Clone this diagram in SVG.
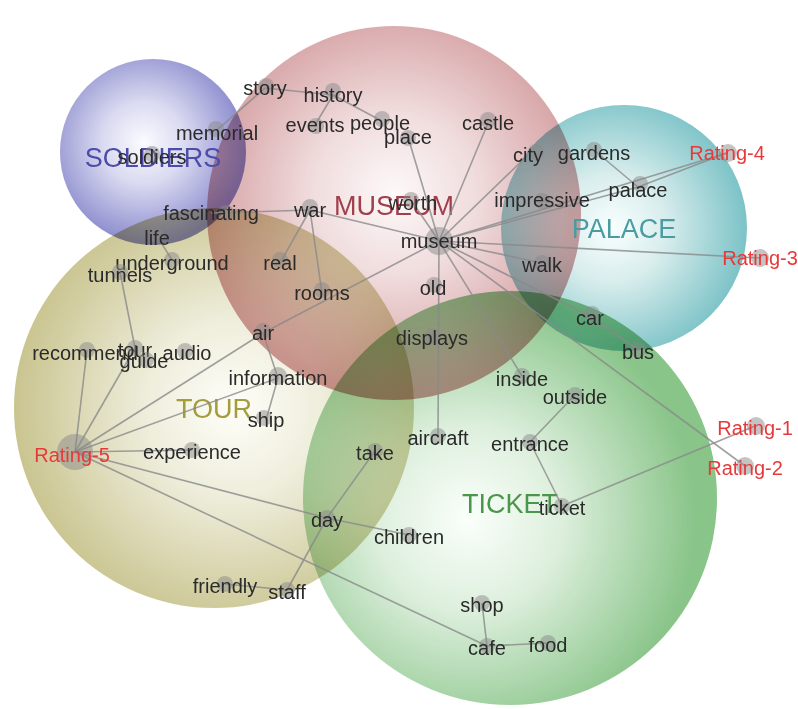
<svg xmlns="http://www.w3.org/2000/svg" width="798" height="709" viewBox="0 0 798 709">
<defs>
<radialGradient id="gS" cx="0.45" cy="0.45" r="0.55"><stop offset="0" stop-color="#fbfbff"/><stop offset="0.4" stop-color="#d4d4ef"/><stop offset="1" stop-color="#7474c4"/></radialGradient>
<radialGradient id="gM" cx="0.5" cy="0.45" r="0.55"><stop offset="0" stop-color="#fdf8f8"/><stop offset="0.4" stop-color="#eed6d7"/><stop offset="1" stop-color="#c98588"/></radialGradient>
<radialGradient id="gP" cx="0.45" cy="0.5" r="0.55"><stop offset="0" stop-color="#f8ffff"/><stop offset="0.4" stop-color="#d2eaea"/><stop offset="1" stop-color="#64b8bd"/></radialGradient>
<radialGradient id="gT" cx="0.55" cy="0.5" r="0.55"><stop offset="0" stop-color="#fefef8"/><stop offset="0.4" stop-color="#ecebd6"/><stop offset="1" stop-color="#c0ba7c"/></radialGradient>
<radialGradient id="gK" cx="0.4" cy="0.55" r="0.55"><stop offset="0" stop-color="#fafffa"/><stop offset="0.4" stop-color="#d8edd8"/><stop offset="1" stop-color="#74ba74"/></radialGradient>
</defs>
<style>
.cat{mix-blend-mode:multiply;opacity:0.85}
.lbl{font-family:"Liberation Sans",Arial,sans-serif;font-size:20px;fill:#2a2a2a;text-anchor:middle}
.rat{fill:#e8393a}
.clbl{font-family:"Liberation Sans",Arial,sans-serif;font-size:27px;text-anchor:middle}
.dot{fill:#8a8a8a;fill-opacity:0.5}
#edges line{stroke:#8a8a8a;stroke-opacity:0.8;stroke-width:1.6}
</style>
<g id="categories">
<g id="cat-soldiers" class="cat"><circle cx="153" cy="152" r="93" fill="url(#gS)"/></g>
<g id="cat-museum" class="cat"><circle cx="394" cy="213" r="187" fill="url(#gM)"/></g>
<g id="cat-palace" class="cat"><circle cx="624" cy="228" r="123" fill="url(#gP)"/></g>
<g id="cat-tour" class="cat"><circle cx="214" cy="408" r="200" fill="url(#gT)"/></g>
<g id="cat-ticket" class="cat"><circle cx="510" cy="498" r="207" fill="url(#gK)"/></g>
</g>
<g id="cat-labels">
<text class="clbl" x="153" y="167" fill="#4c4caa">SOLDIERS</text>
<text class="clbl" x="394" y="215" fill="#a0404c">MUSEUM</text>
<text class="clbl" x="624" y="238" fill="#4a9ca2">PALACE</text>
<text class="clbl" x="214" y="418" fill="#a49d3c">TOUR</text>
<text class="clbl" x="510" y="513" fill="#4a964a">TICKET</text>
</g>
<g id="edges">
<line x1="265" y1="88" x2="333" y2="95"/>
<line x1="265" y1="88" x2="217" y2="130"/>
<line x1="333" y1="95" x2="315" y2="125"/>
<line x1="333" y1="95" x2="380" y2="120"/>
<line x1="408" y1="137" x2="439" y2="241"/>
<line x1="488" y1="123" x2="439" y2="241"/>
<line x1="528" y1="155" x2="439" y2="241"/>
<line x1="413" y1="203" x2="439" y2="241"/>
<line x1="310" y1="210" x2="439" y2="241"/>
<line x1="211" y1="213" x2="310" y2="210"/>
<line x1="310" y1="210" x2="280" y2="263"/>
<line x1="310" y1="210" x2="322" y2="293"/>
<line x1="439" y1="241" x2="263" y2="333"/>
<line x1="263" y1="333" x2="278" y2="378"/>
<line x1="278" y1="378" x2="266" y2="420"/>
<line x1="263" y1="333" x2="75" y2="452"/>
<line x1="278" y1="378" x2="75" y2="452"/>
<line x1="439" y1="241" x2="727" y2="153"/>
<line x1="439" y1="241" x2="638" y2="187"/>
<line x1="594" y1="150" x2="638" y2="187"/>
<line x1="638" y1="187" x2="727" y2="153"/>
<line x1="439" y1="241" x2="760" y2="258"/>
<line x1="439" y1="241" x2="542" y2="263"/>
<line x1="439" y1="241" x2="590" y2="316"/>
<line x1="590" y1="316" x2="638" y2="350"/>
<line x1="439" y1="241" x2="745" y2="466"/>
<line x1="439" y1="241" x2="522" y2="376"/>
<line x1="439" y1="241" x2="438" y2="436"/>
<line x1="575" y1="395" x2="530" y2="442"/>
<line x1="530" y1="442" x2="562" y2="506"/>
<line x1="562" y1="506" x2="755" y2="426"/>
<line x1="375" y1="451" x2="327" y2="518"/>
<line x1="327" y1="518" x2="287" y2="590"/>
<line x1="327" y1="518" x2="409" y2="535"/>
<line x1="225" y1="584" x2="287" y2="590"/>
<line x1="75" y1="452" x2="327" y2="518"/>
<line x1="75" y1="452" x2="487" y2="646"/>
<line x1="487" y1="646" x2="482" y2="603"/>
<line x1="487" y1="646" x2="548" y2="643"/>
<line x1="75" y1="452" x2="192" y2="450"/>
<line x1="75" y1="452" x2="87" y2="350"/>
<line x1="75" y1="452" x2="135" y2="348"/>
<line x1="120" y1="272" x2="135" y2="348"/>
<line x1="157" y1="236" x2="172" y2="260"/>
</g>
<g id="nodes">
<g id="n-story"><circle class="dot" cx="266" cy="86" r="8"/><text class="lbl" x="265" y="95">story</text></g>
<g id="n-history"><circle class="dot" cx="333" cy="91" r="8"/><text class="lbl" x="333" y="102">history</text></g>
<g id="n-events"><circle class="dot" cx="316" cy="126" r="8"/><text class="lbl" x="315" y="132">events</text></g>
<g id="n-people"><circle class="dot" cx="382" cy="119" r="8"/><text class="lbl" x="380" y="130">people</text></g>
<g id="n-place"><circle class="dot" cx="408" cy="138" r="8"/><text class="lbl" x="408" y="144">place</text></g>
<g id="n-castle"><circle class="dot" cx="488" cy="120" r="8"/><text class="lbl" x="488" y="130">castle</text></g>
<g id="n-city"><circle class="dot" cx="536" cy="152" r="8"/><text class="lbl" x="528" y="162">city</text></g>
<g id="n-gardens"><circle class="dot" cx="594" cy="150" r="8"/><text class="lbl" x="594" y="160">gardens</text></g>
<g id="n-palace"><circle class="dot" cx="640" cy="184" r="8"/><text class="lbl" x="638" y="197">palace</text></g>
<g id="n-rating4"><circle class="dot" cx="728" cy="153" r="9"/><text class="lbl rat" x="727" y="160">Rating-4</text></g>
<g id="n-impressive"><circle class="dot" cx="542" cy="201" r="8"/><text class="lbl" x="542" y="207">impressive</text></g>
<g id="n-rating3"><circle class="dot" cx="760" cy="258" r="9"/><text class="lbl rat" x="760" y="265">Rating-3</text></g>
<g id="n-walk"><circle class="dot" cx="542" cy="263" r="8"/><text class="lbl" x="542" y="272">walk</text></g>
<g id="n-memorial"><circle class="dot" cx="216" cy="129" r="8"/><text class="lbl" x="217" y="140">memorial</text></g>
<g id="n-soldiers"><circle class="dot" cx="152" cy="154" r="8"/><text class="lbl" x="152" y="164">soldiers</text></g>
<g id="n-fascinating"><circle class="dot" cx="226" cy="213" r="8"/><text class="lbl" x="211" y="220">fascinating</text></g>
<g id="n-war"><circle class="dot" cx="310" cy="207" r="8"/><text class="lbl" x="310" y="217">war</text></g>
<g id="n-worth"><circle class="dot" cx="411" cy="200" r="8"/><text class="lbl" x="413" y="210">worth</text></g>
<g id="n-museum"><circle class="dot" cx="439" cy="241" r="14"/><text class="lbl" x="439" y="248">museum</text></g>
<g id="n-life"><circle class="dot" cx="157" cy="236" r="7"/><text class="lbl" x="157" y="245">life</text></g>
<g id="n-underground"><circle class="dot" cx="172" cy="260" r="8"/><text class="lbl" x="172" y="270">underground</text></g>
<g id="n-tunnels"><circle class="dot" cx="120" cy="272" r="8"/><text class="lbl" x="120" y="282">tunnels</text></g>
<g id="n-real"><circle class="dot" cx="280" cy="260" r="8"/><text class="lbl" x="280" y="270">real</text></g>
<g id="n-rooms"><circle class="dot" cx="322" cy="290" r="8"/><text class="lbl" x="322" y="300">rooms</text></g>
<g id="n-old"><circle class="dot" cx="434" cy="285" r="8"/><text class="lbl" x="433" y="295">old</text></g>
<g id="n-air"><circle class="dot" cx="263" cy="331" r="8"/><text class="lbl" x="263" y="340">air</text></g>
<g id="n-displays"><circle class="dot" cx="432" cy="336" r="8"/><text class="lbl" x="432" y="345">displays</text></g>
<g id="n-recommend"><circle class="dot" cx="87" cy="350" r="8"/><text class="lbl" x="85" y="360">recommend</text></g>
<g id="n-tour"><circle class="dot" cx="135" cy="348" r="8"/><text class="lbl" x="135" y="357">tour</text></g>
<g id="n-guide"><circle class="dot" cx="146" cy="360" r="8"/><text class="lbl" x="144" y="368">guide</text></g>
<g id="n-audio"><circle class="dot" cx="185" cy="351" r="8"/><text class="lbl" x="187" y="360">audio</text></g>
<g id="n-information"><circle class="dot" cx="278" cy="376" r="9"/><text class="lbl" x="278" y="385">information</text></g>
<g id="n-ship"><circle class="dot" cx="264" cy="418" r="8"/><text class="lbl" x="266" y="427">ship</text></g>
<g id="n-rating5"><circle class="dot" cx="75" cy="452" r="18"/><text class="lbl rat" x="72" y="462">Rating-5</text></g>
<g id="n-experience"><circle class="dot" cx="192" cy="450" r="8"/><text class="lbl" x="192" y="459">experience</text></g>
<g id="n-inside"><circle class="dot" cx="522" cy="376" r="8"/><text class="lbl" x="522" y="386">inside</text></g>
<g id="n-outside"><circle class="dot" cx="575" cy="395" r="8"/><text class="lbl" x="575" y="404">outside</text></g>
<g id="n-car"><circle class="dot" cx="592" cy="314" r="8"/><text class="lbl" x="590" y="325">car</text></g>
<g id="n-bus"><circle class="dot" cx="638" cy="350" r="8"/><text class="lbl" x="638" y="359">bus</text></g>
<g id="n-aircraft"><circle class="dot" cx="438" cy="436" r="8"/><text class="lbl" x="438" y="445">aircraft</text></g>
<g id="n-entrance"><circle class="dot" cx="530" cy="442" r="8"/><text class="lbl" x="530" y="451">entrance</text></g>
<g id="n-rating1"><circle class="dot" cx="756" cy="426" r="9"/><text class="lbl rat" x="755" y="435">Rating-1</text></g>
<g id="n-rating2"><circle class="dot" cx="745" cy="466" r="9"/><text class="lbl rat" x="745" y="475">Rating-2</text></g>
<g id="n-take"><circle class="dot" cx="375" cy="451" r="8"/><text class="lbl" x="375" y="460">take</text></g>
<g id="n-ticket"><circle class="dot" cx="562" cy="506" r="8"/><text class="lbl" x="562" y="515">ticket</text></g>
<g id="n-day"><circle class="dot" cx="327" cy="518" r="8"/><text class="lbl" x="327" y="527">day</text></g>
<g id="n-children"><circle class="dot" cx="409" cy="535" r="8"/><text class="lbl" x="409" y="544">children</text></g>
<g id="n-friendly"><circle class="dot" cx="225" cy="584" r="8"/><text class="lbl" x="225" y="593">friendly</text></g>
<g id="n-staff"><circle class="dot" cx="287" cy="590" r="8"/><text class="lbl" x="287" y="599">staff</text></g>
<g id="n-shop"><circle class="dot" cx="482" cy="603" r="8"/><text class="lbl" x="482" y="612">shop</text></g>
<g id="n-cafe"><circle class="dot" cx="487" cy="646" r="8"/><text class="lbl" x="487" y="655">cafe</text></g>
<g id="n-food"><circle class="dot" cx="548" cy="643" r="8"/><text class="lbl" x="548" y="652">food</text></g>
</g>
</svg>
